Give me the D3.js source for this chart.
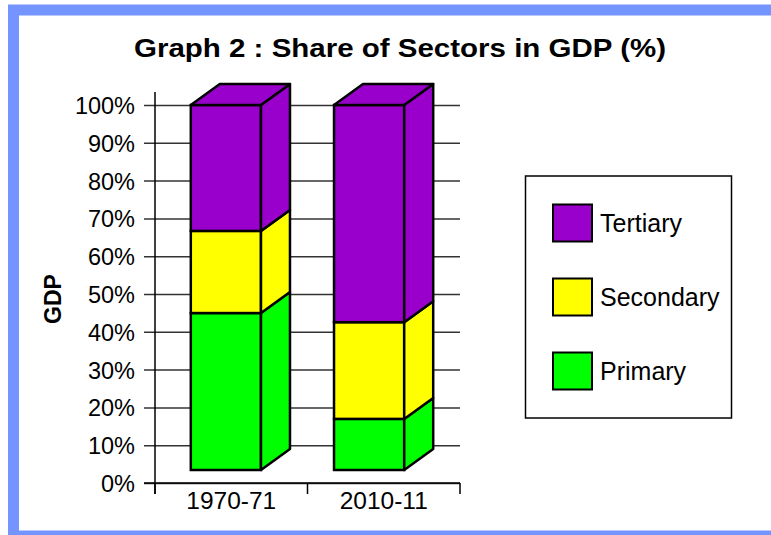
<!DOCTYPE html>
<html>
<head>
<meta charset="utf-8">
<script src="https://cdn.jsdelivr.net/npm/d3@7"></script>
<style>
  body { margin: 0; background: #fff; }
  text { font-family: "Liberation Sans", Arial, sans-serif; fill: #000; }
</style>
</head>
<body>
<div id="chart"></div>
<script>
// data
var years = ["1970-71", "2010-11"];
var sectors = ["Primary", "Secondary", "Tertiary"];
var primary = [43, 14];
var secondary = [22.5, 26.5];
var tertiary = [34.5, 59.5];
var sectorColors = ["#00ff00", "#ffff00", "#9900cc"];
var yTicks = [0, 10, 20, 30, 40, 50, 60, 70, 80, 90, 100];

var width = 771, height = 535;
var depthX = 29, depthY = -21;

var svg = d3.select("#chart").append("svg")
    .attr("width", width)
    .attr("height", height);

// blue frame
svg.append("rect")
    .attr("x", 13.5).attr("y", 10)
    .attr("width", 763).attr("height", 526)
    .style("fill", "#fff")
    .style("stroke", "#7494ff")
    .style("stroke-width", 11);

svg.append("text")
    .attr("x", 400).attr("y", 57)
    .attr("text-anchor", "middle")
    .attr("textLength", 532)
    .attr("lengthAdjust", "spacingAndGlyphs")
    .style("font-size", "26px").style("font-weight", "bold")
    .text("Graph 2 : Share of Sectors in GDP (%)");

// scales
var yScale = d3.scaleLinear().domain([0, 100]).range([483, 105]);
var barY = d3.scaleLinear().domain([0, 100]).range([470, 105]);
var xScale = d3.scaleBand().domain(years).range([155, 460]);
var barX = d3.scaleBand().domain(years).range([155, 440])
    .paddingInner(0.51).paddingOuter(0.25);

// gridlines + y axis
var yAxis = d3.axisLeft(yScale)
    .tickValues(yTicks)
    .tickSize(-(460 - 144))
    .tickPadding(10)
    .tickFormat(function (d) { return d + "%"; });

var yG = svg.append("g")
    .attr("transform", "translate(144,0)")
    .call(yAxis);
yG.select(".domain").remove();
yG.selectAll(".tick line").style("stroke", "#333").style("stroke-width", 1.5);
yG.selectAll(".tick text")
    .attr("x", -9).attr("dy", "0.36em")
    .style("font-size", "23.5px").style("font-family", "Liberation Sans, Arial, sans-serif");

svg.append("line")
    .attr("x1", 155).attr("x2", 155)
    .attr("y1", 92).attr("y2", 494)
    .style("stroke", "#000").style("stroke-width", 1.5);

// x axis
var xAxis = d3.axisBottom(xScale).tickSize(0).tickPadding(8);
var xG = svg.append("g")
    .attr("transform", "translate(0,483)")
    .call(xAxis);
xG.select(".domain").remove();
xG.selectAll(".tick text")
    .attr("y", 9).attr("dy", "0.71em")
    .style("font-size", "24.5px").style("font-family", "Liberation Sans, Arial, sans-serif");

svg.append("line")
    .attr("x1", 144).attr("x2", 460)
    .attr("y1", 483).attr("y2", 483)
    .style("stroke", "#000").style("stroke-width", 1.5);

svg.selectAll(".xtick")
    .data(xScale.domain().map(function (d) { return xScale(d); }).concat([460]))
    .join("line")
    .attr("class", "xtick")
    .attr("x1", function (d) { return d; }).attr("x2", function (d) { return d; })
    .attr("y1", 483).attr("y2", 494)
    .style("stroke", "#000").style("stroke-width", 1.5);

// stacked 3d bars
var stackData = years.map(function (yr, i) {
    return { year: yr, Primary: primary[i], Secondary: secondary[i], Tertiary: tertiary[i] };
});
var series = d3.stack().keys(sectors)(stackData);

var segs = [];
series.forEach(function (s, si) {
    s.forEach(function (d) {
        segs.push({ year: d.data.year, y0: d[0], y1: d[1], color: sectorColors[si], top: si === series.length - 1 });
    });
});

var barG = svg.append("g");
var outline = { stroke: "#000", width: 2.5 };

segs.forEach(function (s) {
    var x0 = barX(s.year), x1 = x0 + barX.bandwidth();
    var yt = barY(s.y1), yb = barY(s.y0);
    barG.append("rect")
        .attr("x", x0).attr("y", yt)
        .attr("width", x1 - x0).attr("height", yb - yt)
        .style("fill", s.color)
        .style("stroke", outline.stroke).style("stroke-width", outline.width);
    barG.append("path")
        .attr("d", d3.line()([[x1, yt], [x1 + depthX, yt + depthY], [x1 + depthX, yb + depthY], [x1, yb]]) + "Z")
        .style("fill", s.color)
        .style("stroke", outline.stroke).style("stroke-width", outline.width)
        .style("stroke-linejoin", "round");
    if (s.top) {
        barG.append("path")
            .attr("d", d3.line()([[x0, yt], [x0 + depthX, yt + depthY], [x1 + depthX, yt + depthY], [x1, yt]]) + "Z")
            .style("fill", s.color)
            .style("stroke", outline.stroke).style("stroke-width", outline.width)
            .style("stroke-linejoin", "round");
    }
});

// y axis title
svg.append("text")
    .attr("transform", "translate(61,299) rotate(-90)")
    .attr("text-anchor", "middle")
    .style("font-size", "23px").style("font-weight", "bold")
    .text("GDP");

// legend
var legend = svg.append("g");
legend.append("rect")
    .attr("x", 525.5).attr("y", 176)
    .attr("width", 206).attr("height", 242)
    .style("fill", "#fff").style("stroke", "#000").style("stroke-width", 1.5);

var legendOrder = sectors.slice().reverse();
var legY = d3.scalePoint().domain(legendOrder).range([223, 371]);

legendOrder.forEach(function (name) {
    var ci = sectors.indexOf(name);
    legend.append("rect")
        .attr("x", 553).attr("y", legY(name) - 18.5)
        .attr("width", 39).attr("height", 37)
        .style("fill", sectorColors[ci])
        .style("stroke", "#000").style("stroke-width", 2);
    legend.append("text")
        .attr("x", 600).attr("y", legY(name))
        .attr("dy", "0.36em")
        .style("font-size", "25px")
        .text(name);
});
</script>
</body>
</html>
